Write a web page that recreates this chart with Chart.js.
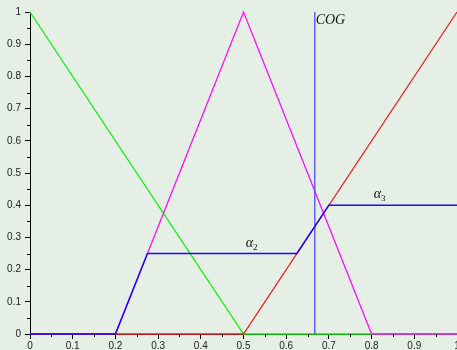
<!DOCTYPE html>
<html>
<head>
<meta charset="utf-8">
<script src="https://cdn.jsdelivr.net/npm/chart.js@4/dist/chart.umd.min.js"></script>
<style>
  html, body { margin: 0; padding: 0; overflow: hidden; background: #e6efe6; }
  canvas { display: block; }
</style>
</head>
<body>
<canvas id="chartCog" width="470" height="350"></canvas>
<script>
// membership functions
const greenX = [0, 0.5, 1];
const greenY = [1, 0, 0];
const magentaX = [0, 0.2, 0.5, 0.8, 1];
const magentaY = [0, 0, 1, 0, 0];
const redX = [0, 0.5, 1];
const redY = [0, 0, 1];
// aggregated (clipped) output
const aggX = [0, 0.2, 0.275, 0.625, 0.7, 1];
const aggY = [0, 0, 0.25, 0.25, 0.4, 0.4];
// centre of gravity
const cogX = 0.667;
const cogY = [0, 1];
// tick values
const majorTicks = [0, 0.1, 0.2, 0.3, 0.4, 0.5, 0.6, 0.7, 0.8, 0.9, 1];
const minorTicks = [0.05, 0.15, 0.25, 0.35, 0.45, 0.55, 0.65, 0.75, 0.85, 0.95];
// annotations: [text, subscript, x, y]
const notes = [
    ['COG', '', 0.669, 0.962],
    ['α', '2', 0.505, 0.27],
    ['α', '3', 0.805, 0.422]
];

const pts = (xs, ys) => xs.map((x, i) => ({ x: x, y: ys[i] }));

function line(label, data, color, width, order) {
    return {
        label: label,
        data: data,
        showLine: true,
        borderColor: color,
        backgroundColor: color,
        borderWidth: width,
        pointRadius: 0,
        tension: 0,
        clip: 3,
        order: order
    };
}

const extras = {
    id: 'extras',
    afterDraw(chart) {
        const ctx = chart.ctx;
        const xs = chart.scales.x, ys = chart.scales.y;
        const area = chart.chartArea;
        ctx.save();
        ctx.strokeStyle = '#000';
        ctx.lineWidth = 1;
        ctx.beginPath();
        minorTicks.forEach(v => {
            const px = Math.round(xs.getPixelForValue(v)) + 0.5;
            ctx.moveTo(px, area.bottom);
            ctx.lineTo(px, area.bottom + 3);
            const py = Math.round(ys.getPixelForValue(v)) + 0.5;
            ctx.moveTo(area.left - 3, py);
            ctx.lineTo(area.left, py);
        });
        ctx.stroke();

        ctx.fillStyle = '#111';
        ctx.textBaseline = 'alphabetic';
        notes.forEach(n => {
            const px = xs.getPixelForValue(n[2]);
            const py = ys.getPixelForValue(n[3]);
            ctx.font = n[1] ? 'italic 14px "Liberation Serif", serif' : 'italic 14px "Liberation Serif", serif';
            ctx.fillText(n[0], px, py);
            if (n[1]) {
                const w = ctx.measureText(n[0]).width;
                ctx.font = '9px "Liberation Serif", serif';
                ctx.fillText(n[1], px + w, py + 3);
            }
        });
        ctx.restore();
    }
};

const tickFont = { family: '"Liberation Sans", Arial, sans-serif', size: 10 };

const ctxCog = document.getElementById('chartCog').getContext('2d');
const chartCog = new Chart(ctxCog, {
    type: 'scatter',
    data: {
        datasets: [
            line('green', pts(greenX, greenY), '#10f010', 1.3, 5),
            line('magenta', pts(magentaX, magentaY), '#ff10ff', 1.3, 4),
            line('red', pts(redX, redY), '#ee2020', 1.3, 3),
            line('cog', pts([cogX, cogX], cogY), '#4a4aff', 1.3, 2),
            line('output', pts(aggX, aggY), '#1a08ff', 1.5, 1)
        ]
    },
    options: {
        responsive: false,
        animation: false,
        layout: { padding: { left: 0, top: 12, right: 13, bottom: 0 } },
        plugins: {
            legend: { display: false },
            tooltip: { enabled: false }
        },
        scales: {
            x: {
                type: 'linear',
                min: 0,
                max: 1,
                afterBuildTicks: s => { s.ticks = majorTicks.map(v => ({ value: v })); },
                afterFit: s => { s.height = 16; },
                border: { color: '#000', width: 1 },
                grid: { drawOnChartArea: false, drawTicks: true, tickLength: 5, tickColor: '#000' },
                ticks: {
                    color: '#222',
                    font: tickFont,
                    padding: 1,
                    maxRotation: 0,
                    autoSkip: false,
                    callback: v => String(Math.round(v * 10) / 10)
                }
            },
            y: {
                type: 'linear',
                min: 0,
                max: 1,
                afterBuildTicks: s => { s.ticks = majorTicks.map(v => ({ value: v })); },
                afterFit: s => { s.width = 30; },
                border: { color: '#000', width: 1 },
                grid: { drawOnChartArea: false, drawTicks: true, tickLength: 5, tickColor: '#000' },
                ticks: {
                    color: '#222',
                    font: tickFont,
                    padding: 4,
                    autoSkip: false,
                    callback: v => String(Math.round(v * 10) / 10)
                }
            }
        }
    },
    plugins: [extras]
});
</script>
</body>
</html>
